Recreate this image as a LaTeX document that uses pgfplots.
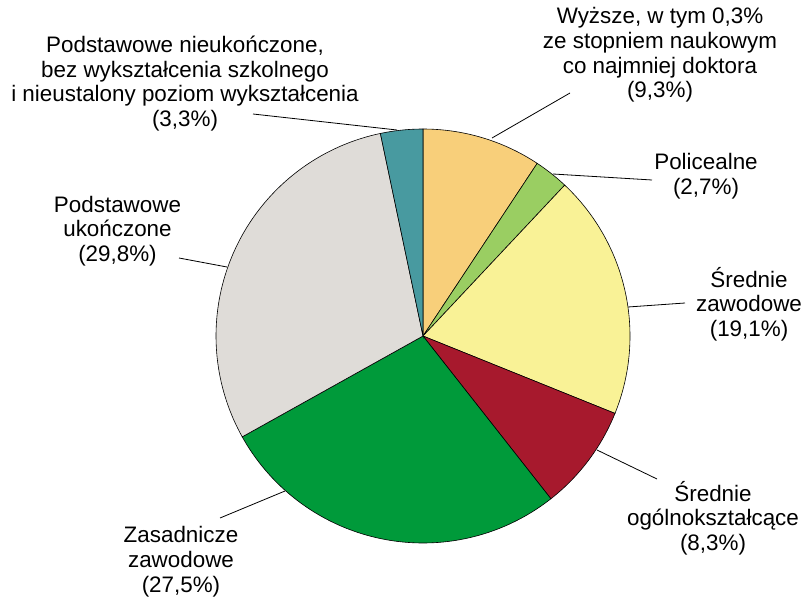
\documentclass[border=0pt]{standalone}
\usepackage{fontspec}
\setmainfont{Liberation Sans}
\usepackage{pgfplots}
\pgfplotsset{compat=1.18}
\usepgfplotslibrary{polar}
\definecolor{cWyz}{RGB}{248,207,122}
\definecolor{cPol}{RGB}{154,206,98}
\definecolor{cSrZ}{RGB}{249,242,150}
\definecolor{cSrO}{RGB}{167,25,45}
\definecolor{cZas}{RGB}{0,154,58}
\definecolor{cPodU}{RGB}{223,220,216}
\definecolor{cPodN}{RGB}{72,154,160}

\begin{document}
\begin{tikzpicture}
% shares (%), clockwise from 12 o'clock: 9.3, 2.7, 19.1, 8.3, 27.5, 29.8, 3.3
\begin{polaraxis}[
  at={(423bp,-336bp)}, anchor=center,
  hide axis, scale only axis,
  width=414bp, height=414bp,
  ymin=0, ymax=1, clip=false, samples=80,
  every axis plot/.append style={draw=black, line width=0.6bp}
]
\addplot[fill=cWyz,  domain={90-3.6*9.3}:{90-3.6*0}]     {1} -- (axis cs:0,0) -- cycle;
\addplot[fill=cPol,  domain={90-3.6*12.0}:{90-3.6*9.3}]  {1} -- (axis cs:0,0) -- cycle;
\addplot[fill=cSrZ,  domain={90-3.6*31.1}:{90-3.6*12.0}] {1} -- (axis cs:0,0) -- cycle;
\addplot[fill=cSrO,  domain={90-3.6*39.4}:{90-3.6*31.1}] {1} -- (axis cs:0,0) -- cycle;
\addplot[fill=cZas,  domain={90-3.6*66.9}:{90-3.6*39.4}] {1} -- (axis cs:0,0) -- cycle;
\addplot[fill=cPodU, domain={90-3.6*96.7}:{90-3.6*66.9}] {1} -- (axis cs:0,0) -- cycle;
\addplot[fill=cPodN, domain={90-3.6*100}:{90-3.6*96.7}]  {1} -- (axis cs:0,0) -- cycle;
\end{polaraxis}

\begin{scope}[x=1bp,y=-1bp]
\path (0,0) rectangle (805,599);
% leader lines
\draw[line width=0.8bp] (570,93) -- (492,138);
\draw[line width=0.8bp] (553,174) -- (652,180);
\draw[line width=0.8bp] (628,307) -- (685,303);
\draw[line width=0.8bp] (597,450) -- (657,479);
\draw[line width=0.8bp] (285,491) -- (220,518);
\draw[line width=0.8bp] (179,258) -- (227,267);
\draw[line width=0.8bp] (253,114) -- (397,130);
% labels
\tikzset{lab/.style={align=center, inner sep=0pt, font=\fontsize{22.4bp}{24.7bp}\selectfont}}
\node[lab] at (185,83.5) {Podstawowe nieukończone,\\bez wykształcenia szkolnego\\i nieustalony poziom wykształcenia\\(3,3\%)};
\node[lab] at (660,55) {Wyższe, w tym 0,3\%\\ze stopniem naukowym\\co najmniej doktora\\(9,3\%)};
\node[lab] at (706,176) {Policealne\\(2,7\%)};
\node[lab] at (749,304) {Średnie\\zawodowe\\(19,1\%)};
\node[lab] at (713,518) {Średnie\\ogólnokształcące\\(8,3\%)};
\node[lab] at (181,561.5) {Zasadnicze\\zawodowe\\(27,5\%)};
\node[lab] at (117.5,231) {Podstawowe\\ukończone\\(29,8\%)};
\end{scope}
\end{tikzpicture}
\end{document}
